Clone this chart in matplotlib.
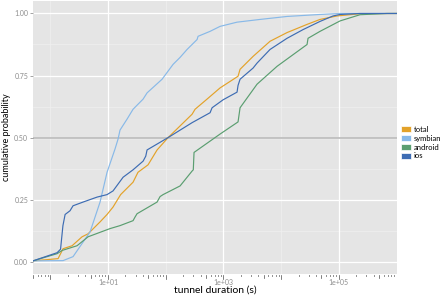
import numpy as np
import matplotlib
matplotlib.use("Agg")
import matplotlib.pyplot as plt
import matplotlib.transforms as mtransforms
from matplotlib.patches import Patch

plt.rcParams["font.family"] = ["Lato", "DejaVu Sans"]

# ─────────────────────────────────────────────
# Data
# ─────────────────────────────────────────────
series_names = ["total", "symbian", "android", "ios"]
series_colors = ["#E3A229", "#88B9E8", "#5A9E70", "#3D6CB3"]

total_x = [0.5, 1.36, 1.66, 2.38, 3.54, 4.5, 7.26, 9.6, 12.2, 16.5, 27.1, 33, 49.3,
           70.7, 110, 286, 322, 520, 873, 1790, 1940, 3260, 6420, 12650, 28120,
           47200, 93100, 233000, 1e6]
total_y = [0.003, 0.012, 0.052, 0.064, 0.10, 0.112, 0.16, 0.19, 0.22, 0.27, 0.32, 0.36,
           0.39, 0.45, 0.50, 0.594, 0.614, 0.655, 0.70, 0.747, 0.775, 0.827, 0.888,
           0.923, 0.956, 0.976, 0.99, 0.999, 1.0]

symbian_x = [0.5, 1.66, 2.47, 4.88, 7.26, 9.6, 13.2, 14.9, 16.1, 21.3, 27.1, 40.5, 47.4,
             86.3, 134, 177, 234, 349, 363, 586, 873, 1720, 4310, 12650, 47200,
             105000, 1e6]
symbian_y = [0.003, 0.004, 0.02, 0.12, 0.24, 0.36, 0.454, 0.494, 0.53, 0.574, 0.614,
             0.655, 0.68, 0.735, 0.795, 0.823, 0.855, 0.895, 0.908, 0.928, 0.948,
             0.965, 0.976, 0.988, 0.996, 1.0, 1.0]

android_x = [0.5, 1.31, 1.6, 2.9, 4.5, 10.8, 16.1, 27.1, 29.4, 31.8, 70.7, 79.6, 89.8,
             177, 286, 300, 309, 873, 1790, 1940, 3820, 8490, 28120, 29250, 47200,
             105000, 233000, 684000, 1e6]
android_y = [0.003, 0.032, 0.045, 0.064, 0.10, 0.133, 0.145, 0.165, 0.18, 0.193, 0.24,
             0.262, 0.27, 0.305, 0.365, 0.37, 0.44, 0.514, 0.563, 0.62, 0.715, 0.787,
             0.875, 0.90, 0.928, 0.97, 0.995, 1.0, 1.0]

ios_x = [0.5, 1.31, 1.5, 1.65, 1.8, 2.19, 2.47, 3.69, 6.45, 9.6, 12.2, 18.2, 27.1, 40.5,
         45, 47.4, 110, 286, 586, 635, 984, 1720, 1790, 1940, 3260, 3820, 6420, 12650,
         23970, 47200, 79300, 105000, 233000, 1e6]
ios_y = [0.003, 0.036, 0.05, 0.145, 0.19, 0.205, 0.225, 0.24, 0.26, 0.27, 0.285, 0.34,
         0.37, 0.405, 0.425, 0.45, 0.50, 0.56, 0.60, 0.62, 0.652, 0.683, 0.71, 0.735,
         0.78, 0.80, 0.855, 0.90, 0.935, 0.968, 0.99, 0.996, 1.0, 1.0]

y_ticks = [0.0, 0.25, 0.5, 0.75, 1.0]
y_ticklabels = ["0.00", "0.25", "0.50", "0.75", "1.00"]
x_labelled = [1e1, 1e3, 1e5]
x_ticklabels = ["1e+01", "1e+03", "1e+05"]
x_minor_grid = [1e0, 1e2, 1e4, 1e6]

# ─────────────────────────────────────────────
# Figure
# ─────────────────────────────────────────────
fig = plt.figure(figsize=(4.45, 2.97), dpi=100, facecolor="white")
ax = fig.add_axes([0.0742, 0.0774, 0.8180, 0.9190])
ax.set_facecolor("#E5E5E5")
ax.set_xscale("log")
ax.set_xlim(0.5, 1.02e6)
ax.set_ylim(-0.05, 1.05)

# grid (ggplot style)
for v in x_minor_grid:
    ax.axvline(v, color="#F0F0F0", lw=0.5, zorder=0.5)
for v in x_labelled:
    ax.axvline(v, color="white", lw=0.9, zorder=0.6)
for v in [0.125, 0.375, 0.625, 0.875]:
    ax.axhline(v, color="#F0F0F0", lw=0.5, zorder=0.5)
for v in y_ticks:
    ax.axhline(v, color="white", lw=0.9, zorder=0.6)
ax.axhline(0.5, color="#BEBEBE", lw=1.3, zorder=0.7)

for name, xs, ys, col in zip(series_names,
                             [total_x, symbian_x, android_x, ios_x],
                             [total_y, symbian_y, android_y, ios_y],
                             series_colors):
    ax.plot(xs, ys, color=col, lw=0.85, label=name, zorder=2)

for s in ax.spines.values():
    s.set_visible(False)

# y axis
ax.set_yticks(y_ticks)
ax.set_yticklabels(y_ticklabels)
ax.tick_params(axis="y", length=2, width=0.5, color="#7F7F7F",
               labelsize=5, labelcolor="#8C8C8C", pad=1.5)

# x axis: labels only, log ticks drawn by hand below the panel
ax.set_xticks(x_labelled)
ax.set_xticklabels(x_ticklabels)
ax.xaxis.set_minor_locator(matplotlib.ticker.NullLocator())
ax.tick_params(axis="x", length=0, labelsize=5, labelcolor="#8C8C8C", pad=3.5)

trans = mtransforms.blended_transform_factory(ax.transData, ax.transAxes)
for dec in range(0, 7):
    for m in range(1, 10):
        v = m * 10.0 ** (dec - 1)
        if v < 0.5 or v > 1.02e6:
            continue
        if m == 1:
            h = 0.018
        elif m == 5:
            h = 0.012
        else:
            h = 0.007
        ax.plot([v, v], [-0.002, -0.002 - h], transform=trans, color="#4D4D4D",
                lw=0.5, clip_on=False)

ax.set_xlabel("tunnel duration (s)", fontsize=7.5, labelpad=0)
ax.set_ylabel("cumulative probability", fontsize=6.5, labelpad=2)

handles = [Patch(facecolor=c, edgecolor="white", lw=0.5) for c in series_colors]
fig.legend(handles, series_names, loc="center left", bbox_to_anchor=(0.902, 0.52),
           frameon=False, fontsize=5.5, handlelength=1.3, handleheight=0.9,
           handletextpad=0.3, labelspacing=0.25, borderaxespad=0, borderpad=0)

fig.savefig("out.png", dpi=100, facecolor="white")
